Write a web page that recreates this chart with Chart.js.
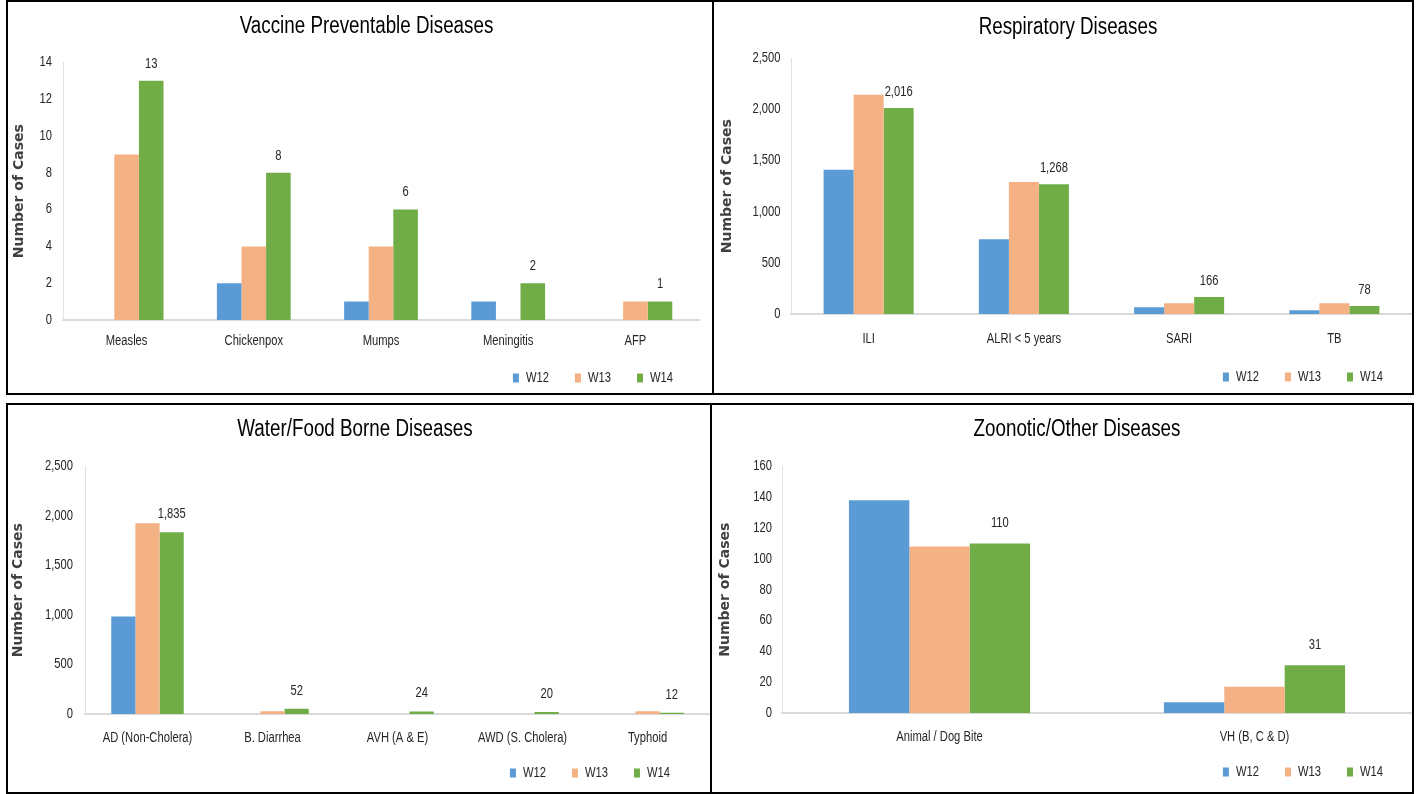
<!DOCTYPE html>
<html><head><meta charset="utf-8">
<script src="https://cdn.jsdelivr.net/npm/chart.js@4.4.1/dist/chart.umd.min.js"></script>
<style>
html,body{margin:0;padding:0;background:#fff;width:1421px;height:794px;overflow:hidden;position:relative}
.panel{position:absolute;box-sizing:border-box;border:2px solid #000;background:#fff}
.panel canvas{position:absolute;left:0;top:0}
</style></head><body>
<div class="panel" style="left:6px;top:0;width:708px;height:395px"><canvas id="c1" width="704" height="391"></canvas></div>
<div class="panel" style="left:712px;top:0;width:702px;height:395px"><canvas id="c2" width="698" height="391"></canvas></div>
<div class="panel" style="left:6px;top:403px;width:706px;height:391px"><canvas id="c3" width="702" height="387"></canvas></div>
<div class="panel" style="left:710px;top:403px;width:704px;height:391px"><canvas id="c4" width="700" height="387"></canvas></div>
<script>
// ---- data ----
const seriesNames = ['W12', 'W13', 'W14'];

const vpdCategories = ['Measles', 'Chickenpox', 'Mumps', 'Meningitis', 'AFP'];
const vpdW12 = [0, 2, 1, 1, 0];
const vpdW13 = [9, 4, 4, 0, 1];
const vpdW14 = [13, 8, 6, 2, 1];

const respCategories = ['ILI', 'ALRI < 5 years', 'SARI', 'TB'];
const respW12 = [1410, 730, 65, 36];
const respW13 = [2145, 1290, 104, 104];
const respW14 = [2016, 1268, 166, 78];

const waterCategories = ['AD (Non-Cholera)', 'B. Diarrhea', 'AVH (A & E)', 'AWD (S. Cholera)', 'Typhoid'];
const waterW12 = [985, 0, 0, 0, 0];
const waterW13 = [1925, 28, 0, 0, 28];
const waterW14 = [1835, 52, 24, 20, 12];

const zooCategories = ['Animal / Dog Bite', 'VH (B, C & D)'];
const zooW12 = [138, 7];
const zooW13 = [108, 17];
const zooW14 = [110, 31];

// ---- styles ----
// No narrow font is installed: draw "Liberation Sans" text horizontally condensed.
const FONT = "'Liberation Sans', sans-serif";
const AXIS_TITLE_FONT = "'DejaVu Sans', sans-serif";
const SQUEEZE = 0.8;
const isNarrow = (ctx) => /Liberation Sans/.test(ctx.font);
const _fillText = CanvasRenderingContext2D.prototype.fillText;
CanvasRenderingContext2D.prototype.fillText = function (text, x, y, maxWidth) {
  if (!isNarrow(this)) return _fillText.call(this, text, x, y, maxWidth);
  this.save();
  this.translate(x, y);
  this.scale(SQUEEZE, 1);
  _fillText.call(this, text, 0, 0);
  this.restore();
};
const _measureText = CanvasRenderingContext2D.prototype.measureText;
CanvasRenderingContext2D.prototype.measureText = function (text) {
  const m = _measureText.call(this, text);
  if (!isNarrow(this)) return m;
  return {
    width: m.width * SQUEEZE,
    actualBoundingBoxLeft: m.actualBoundingBoxLeft * SQUEEZE,
    actualBoundingBoxRight: m.actualBoundingBoxRight * SQUEEZE,
    actualBoundingBoxAscent: m.actualBoundingBoxAscent,
    actualBoundingBoxDescent: m.actualBoundingBoxDescent,
    fontBoundingBoxAscent: m.fontBoundingBoxAscent,
    fontBoundingBoxDescent: m.fontBoundingBoxDescent
  };
};

const BLUE = '#5B9BD5', ORANGE = '#F4B183', GREEN = '#70AD47';
const TEXT = '#262626';
Chart.defaults.font.family = FONT;

const valueLabels = {
  id: 'valueLabels',
  afterDatasetsDraw(chart, args, opts) {
    const ctx = chart.ctx;
    const meta = chart.getDatasetMeta(2);
    const ds = chart.data.datasets[2];
    ctx.save();
    ctx.font = opts.font; ctx.fillStyle = opts.color;
    ctx.textAlign = 'center'; ctx.textBaseline = 'middle';
    meta.data.forEach((bar, i) => {
      ctx.fillText(ds.data[i].toLocaleString('en-US'), bar.x, bar.y - opts.offset);
    });
    ctx.restore();
  }
};

// small horizontal nudges of the title and legend boxes after layout
const nudge = {
  id: 'nudge',
  afterLayout(chart, args, opts) {
    if (chart.titleBlock) { chart.titleBlock.left += opts.title; chart.titleBlock.right += opts.title; }
    if (chart.legend) { chart.legend.left += opts.legend; chart.legend.right += opts.legend; }
  }
};

function build(id, labels, s12, s13, s14, L) {
  return new Chart(document.getElementById(id), {
    type: 'bar',
    data: { labels, datasets: [
      { label: seriesNames[0], data: s12, backgroundColor: BLUE },
      { label: seriesNames[1], data: s13, backgroundColor: ORANGE },
      { label: seriesNames[2], data: s14, backgroundColor: GREEN }
    ]},
    options: {
      responsive: false, animation: false, devicePixelRatio: 1,
      layout: { padding: { left: 0, right: L.padRight, top: 0, bottom: L.padBottom } },
      datasets: { bar: { categoryPercentage: L.catPct, barPercentage: 1.0, borderWidth: 0 } },
      plugins: {
        title: { display: true, text: L.title, color: '#000',
          font: { size: 23.5, family: FONT, weight: 'normal' },
          padding: { top: L.tTop, bottom: L.tBot } },
        legend: { position: 'bottom', align: 'end', maxHeight: L.legH,
          labels: { boxWidth: 6, boxHeight: 9, padding: 26, color: TEXT, font: { size: 14, family: FONT } } },
        tooltip: { enabled: false },
        valueLabels: { offset: L.off, font: '14px ' + FONT, color: TEXT },
        nudge: { title: L.titleDx, legend: L.legendDx }
      },
      scales: {
        x: { grid: { display: false, drawTicks: false },
             border: { display: true, color: '#d9d9d9', width: 2 },
             ticks: { padding: L.xPad, color: TEXT, font: { size: 14 } },
             afterFit(s) { s.height = L.xH; s._computeLabelArea = () => undefined; } },
        y: { min: 0, max: L.max,
             ticks: { stepSize: L.step, padding: L.yPad, color: TEXT, font: { size: 14 } },
             grid: { display: false, drawTicks: false },
             border: { display: true, color: '#e3e3e3', width: 1 },
             title: { display: true, text: 'Number of Cases', color: '#404040',
               font: { size: 14, weight: 'bold', family: AXIS_TITLE_FONT },
               padding: { top: L.yTitlePad, bottom: 0 } },
             afterFit(s) { s.width = L.yW; } }
      }
    },
    plugins: [valueLabels, nudge]
  });
}

build('c1', vpdCategories, vpdW12, vpdW13, vpdW14, {
  title: 'Vaccine Preventable Diseases', max: 14, step: 2, catPct: 0.58,
  padRight: 13, padBottom: 0, tTop: 10.7, tBot: 21.5, legH: 48, xH: 25, xPad: 12.6,
  yW: 55, yPad: 11, yTitlePad: 2.6, off: 17, titleDx: 13, legendDx: 0 });
build('c2', respCategories, respW12, respW13, respW14, {
  title: 'Respiratory Diseases', max: 2500, step: 500, catPct: 0.58,
  padRight: 0, padBottom: 0, tTop: 11.7, tBot: 16.5, legH: 49, xH: 30, xPad: 16.6,
  yW: 77, yPad: 10.5, yTitlePad: 4.6, off: 16, titleDx: 5, legendDx: -3 });
build('c3', waterCategories, waterW12, waterW13, waterW14, {
  title: 'Water/Food Borne Diseases', max: 2500, step: 500, catPct: 0.58,
  padRight: 0, padBottom: 2, tTop: 10.7, tBot: 22.5, legH: 50, xH: 26, xPad: 15.6,
  yW: 77, yPad: 12, yTitlePad: 1.6, off: 18, titleDx: -4, legendDx: -14 });
build('c4', zooCategories, zooW12, zooW13, zooW14, {
  title: 'Zoonotic/Other Diseases', max: 160, step: 20, catPct: 0.575,
  padRight: 0, padBottom: 3, tTop: 10.7, tBot: 22.5, legH: 50, xH: 26, xPad: 15.6,
  yW: 70, yPad: 10, yTitlePad: 4.6, off: 20, titleDx: 15, legendDx: -3 });
</script>
</body></html>
